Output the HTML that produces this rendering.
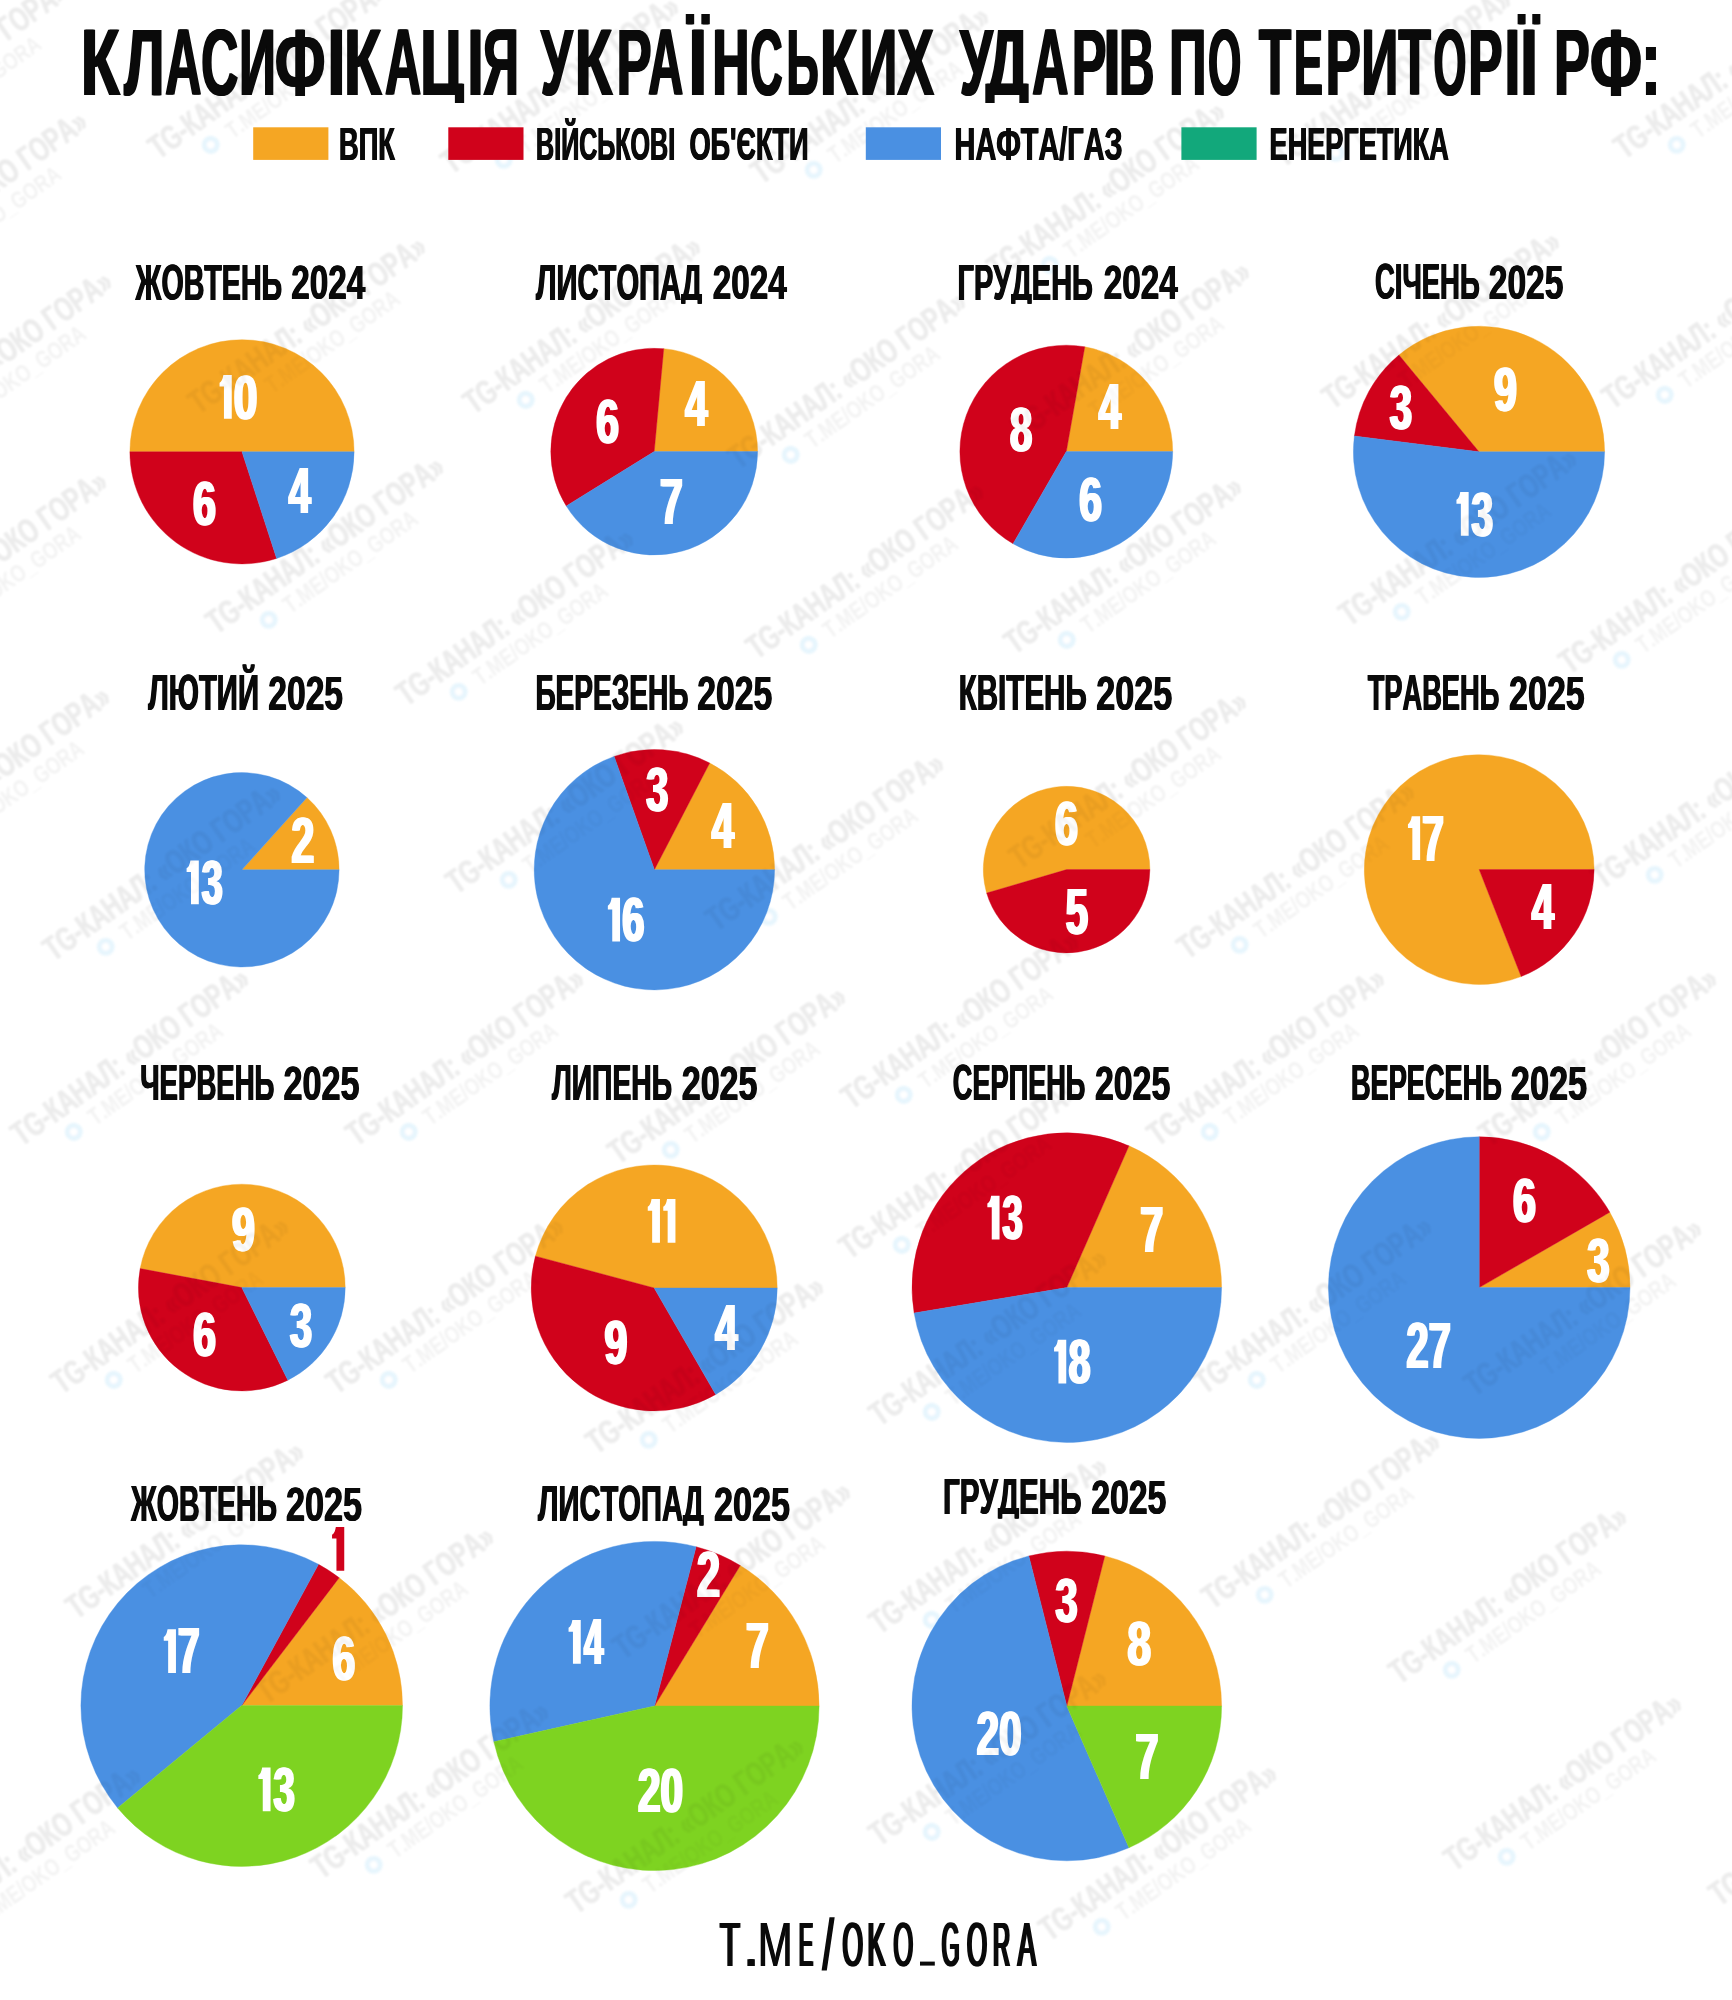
<!DOCTYPE html>
<html><head><meta charset="utf-8"><title>chart</title>
<style>
html,body{margin:0;padding:0;background:#fff;}
body{width:1732px;height:2000px;overflow:hidden;}
svg text{font-family:"Liberation Sans",sans-serif;font-size:100px;font-kerning:none;white-space:pre;}
</style></head><body>
<svg width="1732" height="2000" viewBox="0 0 1732 2000" style="display:block">
<rect width="1732" height="2000" fill="#fff"/>
<defs>
<g id="wa1"><use href="#w1" transform="translate(159 160) rotate(-35.3)"/><use href="#w1" transform="translate(452 175) rotate(-35.3)"/><use href="#w1" transform="translate(762 185) rotate(-35.3)"/><use href="#w1" transform="translate(1284 168) rotate(-35.3)"/><use href="#w1" transform="translate(1625 160) rotate(-35.3)"/><use href="#w1" transform="translate(998 280) rotate(-35.3)"/><use href="#w1" transform="translate(199 415) rotate(-35.3)"/><use href="#w1" transform="translate(474 415) rotate(-35.3)"/><use href="#w1" transform="translate(739 470) rotate(-35.3)"/><use href="#w1" transform="translate(1023 440) rotate(-35.3)"/><use href="#w1" transform="translate(1333 410) rotate(-35.3)"/><use href="#w1" transform="translate(1613 410) rotate(-35.3)"/><use href="#w1" transform="translate(217 635) rotate(-35.3)"/><use href="#w1" transform="translate(407 707) rotate(-35.3)"/><use href="#w1" transform="translate(757 660) rotate(-35.3)"/><use href="#w1" transform="translate(1015 655) rotate(-35.3)"/><use href="#w1" transform="translate(1350 627) rotate(-35.3)"/><use href="#w1" transform="translate(1570 675) rotate(-35.3)"/><use href="#w1" transform="translate(-140 290) rotate(-35.3)"/><use href="#w1" transform="translate(-115 450) rotate(-35.3)"/><use href="#w1" transform="translate(-120 650) rotate(-35.3)"/><use href="#w1" transform="translate(-160 160) rotate(-35.3)"/><use href="#w1" transform="translate(-117 865) rotate(-35.3)"/><use href="#w1" transform="translate(54 962) rotate(-35.3)"/><use href="#w1" transform="translate(457 895) rotate(-35.3)"/><use href="#w1" transform="translate(717 932) rotate(-35.3)"/><use href="#w1" transform="translate(1020 870) rotate(-35.3)"/><use href="#w1" transform="translate(1188 960) rotate(-35.3)"/><use href="#w1" transform="translate(1603 890) rotate(-35.3)"/><use href="#w1" transform="translate(22 1147) rotate(-35.3)"/><use href="#w1" transform="translate(357 1147) rotate(-35.3)"/><use href="#w1" transform="translate(619 1165) rotate(-35.3)"/><use href="#w1" transform="translate(852 1110) rotate(-35.3)"/><use href="#w1" transform="translate(1158 1147) rotate(-35.3)"/><use href="#w1" transform="translate(1490 1147) rotate(-35.3)"/><use href="#w1" transform="translate(850 1260) rotate(-35.3)"/><use href="#w1" transform="translate(62 1395) rotate(-35.3)"/><use href="#w1" transform="translate(337 1395) rotate(-35.3)"/><use href="#w1" transform="translate(597 1455) rotate(-35.3)"/><use href="#w1" transform="translate(880 1427) rotate(-35.3)"/><use href="#w1" transform="translate(1205 1395) rotate(-35.3)"/><use href="#w1" transform="translate(1475 1397) rotate(-35.3)"/><use href="#w1" transform="translate(77 1620) rotate(-35.3)"/><use href="#w1" transform="translate(267 1705) rotate(-35.3)"/><use href="#w1" transform="translate(624 1660) rotate(-35.3)"/><use href="#w1" transform="translate(880 1635) rotate(-35.3)"/><use href="#w1" transform="translate(1213 1610) rotate(-35.3)"/><use href="#w1" transform="translate(1400 1685) rotate(-35.3)"/><use href="#w1" transform="translate(322 1880) rotate(-35.3)"/><use href="#w1" transform="translate(577 1915) rotate(-35.3)"/><use href="#w1" transform="translate(-86 1944) rotate(-35.3)"/><use href="#w1" transform="translate(880 1847) rotate(-35.3)"/><use href="#w1" transform="translate(1050 1942) rotate(-35.3)"/><use href="#w1" transform="translate(1455 1872) rotate(-35.3)"/><use href="#w1" transform="translate(1720 1907) rotate(-35.3)"/></g><g id="wa2"><use href="#w2" transform="translate(159 160) rotate(-35.3)"/><use href="#w2" transform="translate(452 175) rotate(-35.3)"/><use href="#w2" transform="translate(762 185) rotate(-35.3)"/><use href="#w2" transform="translate(1284 168) rotate(-35.3)"/><use href="#w2" transform="translate(1625 160) rotate(-35.3)"/><use href="#w2" transform="translate(998 280) rotate(-35.3)"/><use href="#w2" transform="translate(199 415) rotate(-35.3)"/><use href="#w2" transform="translate(474 415) rotate(-35.3)"/><use href="#w2" transform="translate(739 470) rotate(-35.3)"/><use href="#w2" transform="translate(1023 440) rotate(-35.3)"/><use href="#w2" transform="translate(1333 410) rotate(-35.3)"/><use href="#w2" transform="translate(1613 410) rotate(-35.3)"/><use href="#w2" transform="translate(217 635) rotate(-35.3)"/><use href="#w2" transform="translate(407 707) rotate(-35.3)"/><use href="#w2" transform="translate(757 660) rotate(-35.3)"/><use href="#w2" transform="translate(1015 655) rotate(-35.3)"/><use href="#w2" transform="translate(1350 627) rotate(-35.3)"/><use href="#w2" transform="translate(1570 675) rotate(-35.3)"/><use href="#w2" transform="translate(-140 290) rotate(-35.3)"/><use href="#w2" transform="translate(-115 450) rotate(-35.3)"/><use href="#w2" transform="translate(-120 650) rotate(-35.3)"/><use href="#w2" transform="translate(-160 160) rotate(-35.3)"/><use href="#w2" transform="translate(-117 865) rotate(-35.3)"/><use href="#w2" transform="translate(54 962) rotate(-35.3)"/><use href="#w2" transform="translate(457 895) rotate(-35.3)"/><use href="#w2" transform="translate(717 932) rotate(-35.3)"/><use href="#w2" transform="translate(1020 870) rotate(-35.3)"/><use href="#w2" transform="translate(1188 960) rotate(-35.3)"/><use href="#w2" transform="translate(1603 890) rotate(-35.3)"/><use href="#w2" transform="translate(22 1147) rotate(-35.3)"/><use href="#w2" transform="translate(357 1147) rotate(-35.3)"/><use href="#w2" transform="translate(619 1165) rotate(-35.3)"/><use href="#w2" transform="translate(852 1110) rotate(-35.3)"/><use href="#w2" transform="translate(1158 1147) rotate(-35.3)"/><use href="#w2" transform="translate(1490 1147) rotate(-35.3)"/><use href="#w2" transform="translate(850 1260) rotate(-35.3)"/><use href="#w2" transform="translate(62 1395) rotate(-35.3)"/><use href="#w2" transform="translate(337 1395) rotate(-35.3)"/><use href="#w2" transform="translate(597 1455) rotate(-35.3)"/><use href="#w2" transform="translate(880 1427) rotate(-35.3)"/><use href="#w2" transform="translate(1205 1395) rotate(-35.3)"/><use href="#w2" transform="translate(1475 1397) rotate(-35.3)"/><use href="#w2" transform="translate(77 1620) rotate(-35.3)"/><use href="#w2" transform="translate(267 1705) rotate(-35.3)"/><use href="#w2" transform="translate(624 1660) rotate(-35.3)"/><use href="#w2" transform="translate(880 1635) rotate(-35.3)"/><use href="#w2" transform="translate(1213 1610) rotate(-35.3)"/><use href="#w2" transform="translate(1400 1685) rotate(-35.3)"/><use href="#w2" transform="translate(322 1880) rotate(-35.3)"/><use href="#w2" transform="translate(577 1915) rotate(-35.3)"/><use href="#w2" transform="translate(-86 1944) rotate(-35.3)"/><use href="#w2" transform="translate(880 1847) rotate(-35.3)"/><use href="#w2" transform="translate(1050 1942) rotate(-35.3)"/><use href="#w2" transform="translate(1455 1872) rotate(-35.3)"/><use href="#w2" transform="translate(1720 1907) rotate(-35.3)"/></g><g id="wa3"><use href="#w3" transform="translate(159 160) rotate(-35.3)"/><use href="#w3" transform="translate(452 175) rotate(-35.3)"/><use href="#w3" transform="translate(762 185) rotate(-35.3)"/><use href="#w3" transform="translate(1284 168) rotate(-35.3)"/><use href="#w3" transform="translate(1625 160) rotate(-35.3)"/><use href="#w3" transform="translate(998 280) rotate(-35.3)"/><use href="#w3" transform="translate(199 415) rotate(-35.3)"/><use href="#w3" transform="translate(474 415) rotate(-35.3)"/><use href="#w3" transform="translate(739 470) rotate(-35.3)"/><use href="#w3" transform="translate(1023 440) rotate(-35.3)"/><use href="#w3" transform="translate(1333 410) rotate(-35.3)"/><use href="#w3" transform="translate(1613 410) rotate(-35.3)"/><use href="#w3" transform="translate(217 635) rotate(-35.3)"/><use href="#w3" transform="translate(407 707) rotate(-35.3)"/><use href="#w3" transform="translate(757 660) rotate(-35.3)"/><use href="#w3" transform="translate(1015 655) rotate(-35.3)"/><use href="#w3" transform="translate(1350 627) rotate(-35.3)"/><use href="#w3" transform="translate(1570 675) rotate(-35.3)"/><use href="#w3" transform="translate(-140 290) rotate(-35.3)"/><use href="#w3" transform="translate(-115 450) rotate(-35.3)"/><use href="#w3" transform="translate(-120 650) rotate(-35.3)"/><use href="#w3" transform="translate(-160 160) rotate(-35.3)"/><use href="#w3" transform="translate(-117 865) rotate(-35.3)"/><use href="#w3" transform="translate(54 962) rotate(-35.3)"/><use href="#w3" transform="translate(457 895) rotate(-35.3)"/><use href="#w3" transform="translate(717 932) rotate(-35.3)"/><use href="#w3" transform="translate(1020 870) rotate(-35.3)"/><use href="#w3" transform="translate(1188 960) rotate(-35.3)"/><use href="#w3" transform="translate(1603 890) rotate(-35.3)"/><use href="#w3" transform="translate(22 1147) rotate(-35.3)"/><use href="#w3" transform="translate(357 1147) rotate(-35.3)"/><use href="#w3" transform="translate(619 1165) rotate(-35.3)"/><use href="#w3" transform="translate(852 1110) rotate(-35.3)"/><use href="#w3" transform="translate(1158 1147) rotate(-35.3)"/><use href="#w3" transform="translate(1490 1147) rotate(-35.3)"/><use href="#w3" transform="translate(850 1260) rotate(-35.3)"/><use href="#w3" transform="translate(62 1395) rotate(-35.3)"/><use href="#w3" transform="translate(337 1395) rotate(-35.3)"/><use href="#w3" transform="translate(597 1455) rotate(-35.3)"/><use href="#w3" transform="translate(880 1427) rotate(-35.3)"/><use href="#w3" transform="translate(1205 1395) rotate(-35.3)"/><use href="#w3" transform="translate(1475 1397) rotate(-35.3)"/><use href="#w3" transform="translate(77 1620) rotate(-35.3)"/><use href="#w3" transform="translate(267 1705) rotate(-35.3)"/><use href="#w3" transform="translate(624 1660) rotate(-35.3)"/><use href="#w3" transform="translate(880 1635) rotate(-35.3)"/><use href="#w3" transform="translate(1213 1610) rotate(-35.3)"/><use href="#w3" transform="translate(1400 1685) rotate(-35.3)"/><use href="#w3" transform="translate(322 1880) rotate(-35.3)"/><use href="#w3" transform="translate(577 1915) rotate(-35.3)"/><use href="#w3" transform="translate(-86 1944) rotate(-35.3)"/><use href="#w3" transform="translate(880 1847) rotate(-35.3)"/><use href="#w3" transform="translate(1050 1942) rotate(-35.3)"/><use href="#w3" transform="translate(1455 1872) rotate(-35.3)"/><use href="#w3" transform="translate(1720 1907) rotate(-35.3)"/></g>
<g id="w1">
<text transform="matrix(0.2333 0 0 0.3416 -0.76 0)" font-weight="bold">TG-КАНАЛ: «ОКО ГОРА»</text>
<text transform="matrix(0.2333 0 0 0.3416 0.24 0)" font-weight="bold">TG-КАНАЛ: «ОКО ГОРА»</text>
</g>
<g id="w2">
<text transform="matrix(0.1867 0 0 0.2326 71.79 25.7)" font-weight="bold">T.ME/OKO_GORA</text>
</g>
<g id="w3"><circle cx="51.0" cy="17.5" r="9" fill="#2AABEE"/><circle cx="51.0" cy="17.5" r="3.4" fill="#fff"/></g>
<filter id="wb" x="-2%" y="-2%" width="104%" height="104%"><feGaussianBlur stdDeviation="0.85"/></filter>
</defs>
<g opacity="0.078" fill="#000" filter="url(#wb)"><use href="#wa1"/></g>
<g opacity="0.052" fill="#000" filter="url(#wb)"><use href="#wa2"/></g>
<g opacity="0.11" filter="url(#wb)"><use href="#wa3"/></g>
<rect x="253.2" y="127.3" width="75.2" height="32.6" fill="#F5A623"/>
<rect x="448.3" y="127.3" width="75.2" height="32.6" fill="#D0021B"/>
<rect x="865.8" y="127.3" width="75.2" height="32.6" fill="#4A90E2"/>
<rect x="1181.4" y="127.3" width="75.2" height="32.6" fill="#12A87B"/>
<path d="M242.00 451.80L354.10 451.80A112.10 112.10 0 0 0 129.90 451.80Z" fill="#F5A623" stroke="#F5A623" stroke-width="0.4" stroke-linejoin="round"/>
<path d="M242.00 451.80L129.90 451.80A112.10 112.10 0 0 0 276.64 558.41Z" fill="#D0021B" stroke="#D0021B" stroke-width="0.4" stroke-linejoin="round"/>
<path d="M242.00 451.80L276.64 558.41A112.10 112.10 0 0 0 354.10 451.80Z" fill="#4A90E2" stroke="#4A90E2" stroke-width="0.4" stroke-linejoin="round"/>
<path d="M654.20 451.60L757.60 451.60A103.40 103.40 0 0 0 663.74 348.64Z" fill="#F5A623" stroke="#F5A623" stroke-width="0.4" stroke-linejoin="round"/>
<path d="M654.20 451.60L663.74 348.64A103.40 103.40 0 0 0 566.29 506.03Z" fill="#D0021B" stroke="#D0021B" stroke-width="0.4" stroke-linejoin="round"/>
<path d="M654.20 451.60L566.29 506.03A103.40 103.40 0 0 0 757.60 451.60Z" fill="#4A90E2" stroke="#4A90E2" stroke-width="0.4" stroke-linejoin="round"/>
<path d="M1066.30 451.60L1172.70 451.60A106.40 106.40 0 0 0 1084.78 346.82Z" fill="#F5A623" stroke="#F5A623" stroke-width="0.4" stroke-linejoin="round"/>
<path d="M1066.30 451.60L1084.78 346.82A106.40 106.40 0 0 0 1013.10 543.75Z" fill="#D0021B" stroke="#D0021B" stroke-width="0.4" stroke-linejoin="round"/>
<path d="M1066.30 451.60L1013.10 543.75A106.40 106.40 0 0 0 1172.70 451.60Z" fill="#4A90E2" stroke="#4A90E2" stroke-width="0.4" stroke-linejoin="round"/>
<path d="M1479.00 451.80L1604.60 451.80A125.60 125.60 0 0 0 1398.94 355.02Z" fill="#F5A623" stroke="#F5A623" stroke-width="0.4" stroke-linejoin="round"/>
<path d="M1479.00 451.80L1398.94 355.02A125.60 125.60 0 0 0 1354.39 436.06Z" fill="#D0021B" stroke="#D0021B" stroke-width="0.4" stroke-linejoin="round"/>
<path d="M1479.00 451.80L1354.39 436.06A125.60 125.60 0 1 0 1604.60 451.80Z" fill="#4A90E2" stroke="#4A90E2" stroke-width="0.4" stroke-linejoin="round"/>
<path d="M241.90 869.80L339.10 869.80A97.20 97.20 0 0 0 306.94 797.57Z" fill="#F5A623" stroke="#F5A623" stroke-width="0.4" stroke-linejoin="round"/>
<path d="M241.90 869.80L306.94 797.57A97.20 97.20 0 1 0 339.10 869.80Z" fill="#4A90E2" stroke="#4A90E2" stroke-width="0.4" stroke-linejoin="round"/>
<path d="M654.40 869.70L774.60 869.70A120.20 120.20 0 0 0 709.70 762.98Z" fill="#F5A623" stroke="#F5A623" stroke-width="0.4" stroke-linejoin="round"/>
<path d="M654.40 869.70L709.70 762.98A120.20 120.20 0 0 0 614.15 756.44Z" fill="#D0021B" stroke="#D0021B" stroke-width="0.4" stroke-linejoin="round"/>
<path d="M654.40 869.70L614.15 756.44A120.20 120.20 0 1 0 774.60 869.70Z" fill="#4A90E2" stroke="#4A90E2" stroke-width="0.4" stroke-linejoin="round"/>
<path d="M1066.60 869.60L1149.90 869.60A83.30 83.30 0 1 0 986.67 893.07Z" fill="#F5A623" stroke="#F5A623" stroke-width="0.4" stroke-linejoin="round"/>
<path d="M1066.60 869.60L986.67 893.07A83.30 83.30 0 0 0 1149.90 869.60Z" fill="#D0021B" stroke="#D0021B" stroke-width="0.4" stroke-linejoin="round"/>
<path d="M1479.20 869.60L1594.10 869.60A114.90 114.90 0 1 0 1521.18 976.56Z" fill="#F5A623" stroke="#F5A623" stroke-width="0.4" stroke-linejoin="round"/>
<path d="M1479.20 869.60L1521.18 976.56A114.90 114.90 0 0 0 1594.10 869.60Z" fill="#D0021B" stroke="#D0021B" stroke-width="0.4" stroke-linejoin="round"/>
<path d="M241.80 1287.60L345.20 1287.60A103.40 103.40 0 0 0 140.16 1268.60Z" fill="#F5A623" stroke="#F5A623" stroke-width="0.4" stroke-linejoin="round"/>
<path d="M241.80 1287.60L140.16 1268.60A103.40 103.40 0 0 0 287.89 1380.16Z" fill="#D0021B" stroke="#D0021B" stroke-width="0.4" stroke-linejoin="round"/>
<path d="M241.80 1287.60L287.89 1380.16A103.40 103.40 0 0 0 345.20 1287.60Z" fill="#4A90E2" stroke="#4A90E2" stroke-width="0.4" stroke-linejoin="round"/>
<path d="M654.20 1288.00L777.20 1288.00A123.00 123.00 0 0 0 535.39 1256.17Z" fill="#F5A623" stroke="#F5A623" stroke-width="0.4" stroke-linejoin="round"/>
<path d="M654.20 1288.00L535.39 1256.17A123.00 123.00 0 0 0 715.70 1394.52Z" fill="#D0021B" stroke="#D0021B" stroke-width="0.4" stroke-linejoin="round"/>
<path d="M654.20 1288.00L715.70 1394.52A123.00 123.00 0 0 0 777.20 1288.00Z" fill="#4A90E2" stroke="#4A90E2" stroke-width="0.4" stroke-linejoin="round"/>
<path d="M1066.80 1287.60L1221.60 1287.60A154.80 154.80 0 0 0 1128.98 1145.84Z" fill="#F5A623" stroke="#F5A623" stroke-width="0.4" stroke-linejoin="round"/>
<path d="M1066.80 1287.60L1128.98 1145.84A154.80 154.80 0 0 0 914.11 1313.08Z" fill="#D0021B" stroke="#D0021B" stroke-width="0.4" stroke-linejoin="round"/>
<path d="M1066.80 1287.60L914.11 1313.08A154.80 154.80 0 0 0 1221.60 1287.60Z" fill="#4A90E2" stroke="#4A90E2" stroke-width="0.4" stroke-linejoin="round"/>
<path d="M1479.20 1287.60L1630.00 1287.60A150.80 150.80 0 0 0 1609.80 1212.20Z" fill="#F5A623" stroke="#F5A623" stroke-width="0.4" stroke-linejoin="round"/>
<path d="M1479.20 1287.60L1609.80 1212.20A150.80 150.80 0 0 0 1479.20 1136.80Z" fill="#D0021B" stroke="#D0021B" stroke-width="0.4" stroke-linejoin="round"/>
<path d="M1479.20 1287.60L1479.20 1136.80A150.80 150.80 0 1 0 1630.00 1287.60Z" fill="#4A90E2" stroke="#4A90E2" stroke-width="0.4" stroke-linejoin="round"/>
<path d="M241.70 1705.60L402.50 1705.60A160.80 160.80 0 0 0 339.18 1577.72Z" fill="#F5A623" stroke="#F5A623" stroke-width="0.4" stroke-linejoin="round"/>
<path d="M241.70 1705.60L339.18 1577.72A160.80 160.80 0 0 0 318.52 1564.34Z" fill="#D0021B" stroke="#D0021B" stroke-width="0.4" stroke-linejoin="round"/>
<path d="M241.70 1705.60L318.52 1564.34A160.80 160.80 0 0 0 117.64 1807.91Z" fill="#4A90E2" stroke="#4A90E2" stroke-width="0.4" stroke-linejoin="round"/>
<path d="M241.70 1705.60L117.64 1807.91A160.80 160.80 0 0 0 402.50 1705.60Z" fill="#7ED321" stroke="#7ED321" stroke-width="0.4" stroke-linejoin="round"/>
<path d="M654.50 1706.00L819.10 1706.00A164.60 164.60 0 0 0 740.25 1565.50Z" fill="#F5A623" stroke="#F5A623" stroke-width="0.4" stroke-linejoin="round"/>
<path d="M654.50 1706.00L740.25 1565.50A164.60 164.60 0 0 0 696.13 1546.75Z" fill="#D0021B" stroke="#D0021B" stroke-width="0.4" stroke-linejoin="round"/>
<path d="M654.50 1706.00L696.13 1546.75A164.60 164.60 0 0 0 493.84 1741.79Z" fill="#4A90E2" stroke="#4A90E2" stroke-width="0.4" stroke-linejoin="round"/>
<path d="M654.50 1706.00L493.84 1741.79A164.60 164.60 0 0 0 819.10 1706.00Z" fill="#7ED321" stroke="#7ED321" stroke-width="0.4" stroke-linejoin="round"/>
<path d="M1066.80 1706.00L1221.60 1706.00A154.80 154.80 0 0 0 1104.80 1555.94Z" fill="#F5A623" stroke="#F5A623" stroke-width="0.4" stroke-linejoin="round"/>
<path d="M1066.80 1706.00L1104.80 1555.94A154.80 154.80 0 0 0 1028.80 1555.94Z" fill="#D0021B" stroke="#D0021B" stroke-width="0.4" stroke-linejoin="round"/>
<path d="M1066.80 1706.00L1028.80 1555.94A154.80 154.80 0 1 0 1128.98 1847.76Z" fill="#4A90E2" stroke="#4A90E2" stroke-width="0.4" stroke-linejoin="round"/>
<path d="M1066.80 1706.00L1128.98 1847.76A154.80 154.80 0 0 0 1221.60 1706.00Z" fill="#7ED321" stroke="#7ED321" stroke-width="0.4" stroke-linejoin="round"/>
<clipPath id="ct"><rect x="0" y="0" width="1732" height="103"/></clipPath>
<clipPath id="cm0"><rect x="0" y="239.1" width="1732" height="64.3"/></clipPath>
<clipPath id="cm1"><rect x="0" y="239.5" width="1732" height="64.3"/></clipPath>
<clipPath id="cm2"><rect x="0" y="650.4" width="1732" height="64.3"/></clipPath>
<clipPath id="cm3"><rect x="0" y="1040.1" width="1732" height="64.3"/></clipPath>
<clipPath id="cm4"><rect x="0" y="1454.2" width="1732" height="64.3"/></clipPath>
<clipPath id="cm5"><rect x="0" y="1461.2" width="1732" height="64.3"/></clipPath>
<g clip-path="url(#ct)"><text transform="matrix(0.6441 0 0 0.9535 79.79 94.60)" font-weight="bold" fill="#0a0a0a">К</text></g>
<g clip-path="url(#ct)"><text transform="matrix(0.6441 0 0 0.9535 80.69 94.60)" font-weight="bold" fill="#0a0a0a">К</text></g>
<g clip-path="url(#ct)"><text transform="matrix(0.6441 0 0 0.9535 81.59 94.60)" font-weight="bold" fill="#0a0a0a">К</text></g>
<g clip-path="url(#ct)"><text transform="matrix(0.5754 0 0 0.9535 123.28 94.60)" font-weight="bold" fill="#0a0a0a">Л</text></g>
<g clip-path="url(#ct)"><text transform="matrix(0.5754 0 0 0.9535 124.18 94.60)" font-weight="bold" fill="#0a0a0a">Л</text></g>
<g clip-path="url(#ct)"><text transform="matrix(0.5754 0 0 0.9535 125.08 94.60)" font-weight="bold" fill="#0a0a0a">Л</text></g>
<g clip-path="url(#ct)"><text transform="matrix(0.5038 0 0 0.9535 164.15 94.60)" font-weight="bold" fill="#0a0a0a">А</text></g>
<g clip-path="url(#ct)"><text transform="matrix(0.5038 0 0 0.9535 165.05 94.60)" font-weight="bold" fill="#0a0a0a">А</text></g>
<g clip-path="url(#ct)"><text transform="matrix(0.5038 0 0 0.9535 165.95 94.60)" font-weight="bold" fill="#0a0a0a">А</text></g>
<g clip-path="url(#ct)"><text transform="matrix(0.5154 0 0 0.9535 200.19 94.60)" font-weight="bold" fill="#0a0a0a">С</text></g>
<g clip-path="url(#ct)"><text transform="matrix(0.5154 0 0 0.9535 201.09 94.60)" font-weight="bold" fill="#0a0a0a">С</text></g>
<g clip-path="url(#ct)"><text transform="matrix(0.5154 0 0 0.9535 201.99 94.60)" font-weight="bold" fill="#0a0a0a">С</text></g>
<g clip-path="url(#ct)"><text transform="matrix(0.5107 0 0 0.9535 238.31 94.60)" font-weight="bold" fill="#0a0a0a">И</text></g>
<g clip-path="url(#ct)"><text transform="matrix(0.5107 0 0 0.9535 239.21 94.60)" font-weight="bold" fill="#0a0a0a">И</text></g>
<g clip-path="url(#ct)"><text transform="matrix(0.5107 0 0 0.9535 240.11 94.60)" font-weight="bold" fill="#0a0a0a">И</text></g>
<g clip-path="url(#ct)"><text transform="matrix(0.5917 0 0 0.9535 273.95 94.60)" font-weight="bold" fill="#0a0a0a">Ф</text></g>
<g clip-path="url(#ct)"><text transform="matrix(0.5917 0 0 0.9535 274.85 94.60)" font-weight="bold" fill="#0a0a0a">Ф</text></g>
<g clip-path="url(#ct)"><text transform="matrix(0.5917 0 0 0.9535 275.75 94.60)" font-weight="bold" fill="#0a0a0a">Ф</text></g>
<g clip-path="url(#ct)"><text transform="matrix(0.6665 0 0 0.9535 326.14 94.60)" font-weight="bold" fill="#0a0a0a">І</text></g>
<g clip-path="url(#ct)"><text transform="matrix(0.6665 0 0 0.9535 327.04 94.60)" font-weight="bold" fill="#0a0a0a">І</text></g>
<g clip-path="url(#ct)"><text transform="matrix(0.6665 0 0 0.9535 327.94 94.60)" font-weight="bold" fill="#0a0a0a">І</text></g>
<g clip-path="url(#ct)"><text transform="matrix(0.6203 0 0 0.9535 342.95 94.60)" font-weight="bold" fill="#0a0a0a">К</text></g>
<g clip-path="url(#ct)"><text transform="matrix(0.6203 0 0 0.9535 343.85 94.60)" font-weight="bold" fill="#0a0a0a">К</text></g>
<g clip-path="url(#ct)"><text transform="matrix(0.6203 0 0 0.9535 344.75 94.60)" font-weight="bold" fill="#0a0a0a">К</text></g>
<g clip-path="url(#ct)"><text transform="matrix(0.5038 0 0 0.9535 383.95 94.60)" font-weight="bold" fill="#0a0a0a">А</text></g>
<g clip-path="url(#ct)"><text transform="matrix(0.5038 0 0 0.9535 384.85 94.60)" font-weight="bold" fill="#0a0a0a">А</text></g>
<g clip-path="url(#ct)"><text transform="matrix(0.5038 0 0 0.9535 385.75 94.60)" font-weight="bold" fill="#0a0a0a">А</text></g>
<g clip-path="url(#ct)"><text transform="matrix(0.5928 0 0 0.9535 419.33 94.60)" font-weight="bold" fill="#0a0a0a">Ц</text></g>
<g clip-path="url(#ct)"><text transform="matrix(0.5928 0 0 0.9535 420.23 94.60)" font-weight="bold" fill="#0a0a0a">Ц</text></g>
<g clip-path="url(#ct)"><text transform="matrix(0.5928 0 0 0.9535 421.13 94.60)" font-weight="bold" fill="#0a0a0a">Ц</text></g>
<g clip-path="url(#ct)"><text transform="matrix(0.5832 0 0 0.9535 466.40 94.60)" font-weight="bold" fill="#0a0a0a">І</text></g>
<g clip-path="url(#ct)"><text transform="matrix(0.5832 0 0 0.9535 467.30 94.60)" font-weight="bold" fill="#0a0a0a">І</text></g>
<g clip-path="url(#ct)"><text transform="matrix(0.5832 0 0 0.9535 468.20 94.60)" font-weight="bold" fill="#0a0a0a">І</text></g>
<g clip-path="url(#ct)"><text transform="matrix(0.4962 0 0 0.9535 482.15 94.60)" font-weight="bold" fill="#0a0a0a">Я</text></g>
<g clip-path="url(#ct)"><text transform="matrix(0.4962 0 0 0.9535 483.05 94.60)" font-weight="bold" fill="#0a0a0a">Я</text></g>
<g clip-path="url(#ct)"><text transform="matrix(0.4962 0 0 0.9535 483.95 94.60)" font-weight="bold" fill="#0a0a0a">Я</text></g>
<g clip-path="url(#ct)"><text transform="matrix(0.5152 0 0 0.9535 539.67 94.60)" font-weight="bold" fill="#0a0a0a">У</text></g>
<g clip-path="url(#ct)"><text transform="matrix(0.5152 0 0 0.9535 540.57 94.60)" font-weight="bold" fill="#0a0a0a">У</text></g>
<g clip-path="url(#ct)"><text transform="matrix(0.5152 0 0 0.9535 541.47 94.60)" font-weight="bold" fill="#0a0a0a">У</text></g>
<g clip-path="url(#ct)"><text transform="matrix(0.6203 0 0 0.9535 573.65 94.60)" font-weight="bold" fill="#0a0a0a">К</text></g>
<g clip-path="url(#ct)"><text transform="matrix(0.6203 0 0 0.9535 574.55 94.60)" font-weight="bold" fill="#0a0a0a">К</text></g>
<g clip-path="url(#ct)"><text transform="matrix(0.6203 0 0 0.9535 575.45 94.60)" font-weight="bold" fill="#0a0a0a">К</text></g>
<g clip-path="url(#ct)"><text transform="matrix(0.5248 0 0 0.9535 615.69 94.60)" font-weight="bold" fill="#0a0a0a">Р</text></g>
<g clip-path="url(#ct)"><text transform="matrix(0.5248 0 0 0.9535 616.59 94.60)" font-weight="bold" fill="#0a0a0a">Р</text></g>
<g clip-path="url(#ct)"><text transform="matrix(0.5248 0 0 0.9535 617.49 94.60)" font-weight="bold" fill="#0a0a0a">Р</text></g>
<g clip-path="url(#ct)"><text transform="matrix(0.4874 0 0 0.9535 647.29 94.60)" font-weight="bold" fill="#0a0a0a">А</text></g>
<g clip-path="url(#ct)"><text transform="matrix(0.4874 0 0 0.9535 648.19 94.60)" font-weight="bold" fill="#0a0a0a">А</text></g>
<g clip-path="url(#ct)"><text transform="matrix(0.4874 0 0 0.9535 649.09 94.60)" font-weight="bold" fill="#0a0a0a">А</text></g>
<g clip-path="url(#ct)"><text transform="matrix(0.7015 0 0 0.9535 687.27 94.60)" font-weight="bold" fill="#0a0a0a">Ї</text></g>
<g clip-path="url(#ct)"><text transform="matrix(0.7015 0 0 0.9535 688.17 94.60)" font-weight="bold" fill="#0a0a0a">Ї</text></g>
<g clip-path="url(#ct)"><text transform="matrix(0.7015 0 0 0.9535 689.07 94.60)" font-weight="bold" fill="#0a0a0a">Ї</text></g>
<g clip-path="url(#ct)"><text transform="matrix(0.5103 0 0 0.9535 711.59 94.60)" font-weight="bold" fill="#0a0a0a">Н</text></g>
<g clip-path="url(#ct)"><text transform="matrix(0.5103 0 0 0.9535 712.49 94.60)" font-weight="bold" fill="#0a0a0a">Н</text></g>
<g clip-path="url(#ct)"><text transform="matrix(0.5103 0 0 0.9535 713.39 94.60)" font-weight="bold" fill="#0a0a0a">Н</text></g>
<g clip-path="url(#ct)"><text transform="matrix(0.4466 0 0 0.9535 749.47 94.60)" font-weight="bold" fill="#0a0a0a">С</text></g>
<g clip-path="url(#ct)"><text transform="matrix(0.4466 0 0 0.9535 750.37 94.60)" font-weight="bold" fill="#0a0a0a">С</text></g>
<g clip-path="url(#ct)"><text transform="matrix(0.4466 0 0 0.9535 751.27 94.60)" font-weight="bold" fill="#0a0a0a">С</text></g>
<g clip-path="url(#ct)"><text transform="matrix(0.4447 0 0 0.9535 785.73 94.60)" font-weight="bold" fill="#0a0a0a">Ь</text></g>
<g clip-path="url(#ct)"><text transform="matrix(0.4447 0 0 0.9535 786.63 94.60)" font-weight="bold" fill="#0a0a0a">Ь</text></g>
<g clip-path="url(#ct)"><text transform="matrix(0.4447 0 0 0.9535 787.53 94.60)" font-weight="bold" fill="#0a0a0a">Ь</text></g>
<g clip-path="url(#ct)"><text transform="matrix(0.6203 0 0 0.9535 818.85 94.60)" font-weight="bold" fill="#0a0a0a">К</text></g>
<g clip-path="url(#ct)"><text transform="matrix(0.6203 0 0 0.9535 819.75 94.60)" font-weight="bold" fill="#0a0a0a">К</text></g>
<g clip-path="url(#ct)"><text transform="matrix(0.6203 0 0 0.9535 820.65 94.60)" font-weight="bold" fill="#0a0a0a">К</text></g>
<g clip-path="url(#ct)"><text transform="matrix(0.5193 0 0 0.9535 858.95 94.60)" font-weight="bold" fill="#0a0a0a">И</text></g>
<g clip-path="url(#ct)"><text transform="matrix(0.5193 0 0 0.9535 859.85 94.60)" font-weight="bold" fill="#0a0a0a">И</text></g>
<g clip-path="url(#ct)"><text transform="matrix(0.5193 0 0 0.9535 860.75 94.60)" font-weight="bold" fill="#0a0a0a">И</text></g>
<g clip-path="url(#ct)"><text transform="matrix(0.5559 0 0 0.9535 896.21 94.60)" font-weight="bold" fill="#0a0a0a">Х</text></g>
<g clip-path="url(#ct)"><text transform="matrix(0.5559 0 0 0.9535 897.11 94.60)" font-weight="bold" fill="#0a0a0a">Х</text></g>
<g clip-path="url(#ct)"><text transform="matrix(0.5559 0 0 0.9535 898.01 94.60)" font-weight="bold" fill="#0a0a0a">Х</text></g>
<g clip-path="url(#ct)"><text transform="matrix(0.5342 0 0 0.9535 958.77 94.60)" font-weight="bold" fill="#0a0a0a">У</text></g>
<g clip-path="url(#ct)"><text transform="matrix(0.5342 0 0 0.9535 959.67 94.60)" font-weight="bold" fill="#0a0a0a">У</text></g>
<g clip-path="url(#ct)"><text transform="matrix(0.5342 0 0 0.9535 960.57 94.60)" font-weight="bold" fill="#0a0a0a">У</text></g>
<g clip-path="url(#ct)"><text transform="matrix(0.6039 0 0 0.9535 984.87 94.60)" font-weight="bold" fill="#0a0a0a">Д</text></g>
<g clip-path="url(#ct)"><text transform="matrix(0.6039 0 0 0.9535 985.77 94.60)" font-weight="bold" fill="#0a0a0a">Д</text></g>
<g clip-path="url(#ct)"><text transform="matrix(0.6039 0 0 0.9535 986.67 94.60)" font-weight="bold" fill="#0a0a0a">Д</text></g>
<g clip-path="url(#ct)"><text transform="matrix(0.5038 0 0 0.9535 1031.15 94.60)" font-weight="bold" fill="#0a0a0a">А</text></g>
<g clip-path="url(#ct)"><text transform="matrix(0.5038 0 0 0.9535 1032.05 94.60)" font-weight="bold" fill="#0a0a0a">А</text></g>
<g clip-path="url(#ct)"><text transform="matrix(0.5038 0 0 0.9535 1032.95 94.60)" font-weight="bold" fill="#0a0a0a">А</text></g>
<g clip-path="url(#ct)"><text transform="matrix(0.5177 0 0 0.9535 1070.94 94.60)" font-weight="bold" fill="#0a0a0a">Р</text></g>
<g clip-path="url(#ct)"><text transform="matrix(0.5177 0 0 0.9535 1071.84 94.60)" font-weight="bold" fill="#0a0a0a">Р</text></g>
<g clip-path="url(#ct)"><text transform="matrix(0.5177 0 0 0.9535 1072.74 94.60)" font-weight="bold" fill="#0a0a0a">Р</text></g>
<g clip-path="url(#ct)"><text transform="matrix(0.6387 0 0 0.9535 1102.23 94.60)" font-weight="bold" fill="#0a0a0a">І</text></g>
<g clip-path="url(#ct)"><text transform="matrix(0.6387 0 0 0.9535 1103.13 94.60)" font-weight="bold" fill="#0a0a0a">І</text></g>
<g clip-path="url(#ct)"><text transform="matrix(0.6387 0 0 0.9535 1104.03 94.60)" font-weight="bold" fill="#0a0a0a">І</text></g>
<g clip-path="url(#ct)"><text transform="matrix(0.4886 0 0 0.9535 1118.13 94.60)" font-weight="bold" fill="#0a0a0a">В</text></g>
<g clip-path="url(#ct)"><text transform="matrix(0.4886 0 0 0.9535 1119.03 94.60)" font-weight="bold" fill="#0a0a0a">В</text></g>
<g clip-path="url(#ct)"><text transform="matrix(0.4886 0 0 0.9535 1119.93 94.60)" font-weight="bold" fill="#0a0a0a">В</text></g>
<g clip-path="url(#ct)"><text transform="matrix(0.5197 0 0 0.9535 1168.22 94.60)" font-weight="bold" fill="#0a0a0a">П</text></g>
<g clip-path="url(#ct)"><text transform="matrix(0.5197 0 0 0.9535 1169.12 94.60)" font-weight="bold" fill="#0a0a0a">П</text></g>
<g clip-path="url(#ct)"><text transform="matrix(0.5197 0 0 0.9535 1170.02 94.60)" font-weight="bold" fill="#0a0a0a">П</text></g>
<g clip-path="url(#ct)"><text transform="matrix(0.4246 0 0 0.9535 1207.26 94.60)" font-weight="bold" fill="#0a0a0a">О</text></g>
<g clip-path="url(#ct)"><text transform="matrix(0.4246 0 0 0.9535 1208.16 94.60)" font-weight="bold" fill="#0a0a0a">О</text></g>
<g clip-path="url(#ct)"><text transform="matrix(0.4246 0 0 0.9535 1209.06 94.60)" font-weight="bold" fill="#0a0a0a">О</text></g>
<g clip-path="url(#ct)"><text transform="matrix(0.5298 0 0 0.9535 1258.00 94.60)" font-weight="bold" fill="#0a0a0a">Т</text></g>
<g clip-path="url(#ct)"><text transform="matrix(0.5298 0 0 0.9535 1258.90 94.60)" font-weight="bold" fill="#0a0a0a">Т</text></g>
<g clip-path="url(#ct)"><text transform="matrix(0.5298 0 0 0.9535 1259.80 94.60)" font-weight="bold" fill="#0a0a0a">Т</text></g>
<g clip-path="url(#ct)"><text transform="matrix(0.4296 0 0 0.9535 1293.13 94.60)" font-weight="bold" fill="#0a0a0a">Е</text></g>
<g clip-path="url(#ct)"><text transform="matrix(0.4296 0 0 0.9535 1294.03 94.60)" font-weight="bold" fill="#0a0a0a">Е</text></g>
<g clip-path="url(#ct)"><text transform="matrix(0.4296 0 0 0.9535 1294.93 94.60)" font-weight="bold" fill="#0a0a0a">Е</text></g>
<g clip-path="url(#ct)"><text transform="matrix(0.5283 0 0 0.9535 1324.77 94.60)" font-weight="bold" fill="#0a0a0a">Р</text></g>
<g clip-path="url(#ct)"><text transform="matrix(0.5283 0 0 0.9535 1325.67 94.60)" font-weight="bold" fill="#0a0a0a">Р</text></g>
<g clip-path="url(#ct)"><text transform="matrix(0.5283 0 0 0.9535 1326.57 94.60)" font-weight="bold" fill="#0a0a0a">Р</text></g>
<g clip-path="url(#ct)"><text transform="matrix(0.5124 0 0 0.9535 1360.40 94.60)" font-weight="bold" fill="#0a0a0a">И</text></g>
<g clip-path="url(#ct)"><text transform="matrix(0.5124 0 0 0.9535 1361.30 94.60)" font-weight="bold" fill="#0a0a0a">И</text></g>
<g clip-path="url(#ct)"><text transform="matrix(0.5124 0 0 0.9535 1362.20 94.60)" font-weight="bold" fill="#0a0a0a">И</text></g>
<g clip-path="url(#ct)"><text transform="matrix(0.5315 0 0 0.9535 1397.50 94.60)" font-weight="bold" fill="#0a0a0a">Т</text></g>
<g clip-path="url(#ct)"><text transform="matrix(0.5315 0 0 0.9535 1398.40 94.60)" font-weight="bold" fill="#0a0a0a">Т</text></g>
<g clip-path="url(#ct)"><text transform="matrix(0.5315 0 0 0.9535 1399.30 94.60)" font-weight="bold" fill="#0a0a0a">Т</text></g>
<g clip-path="url(#ct)"><text transform="matrix(0.4203 0 0 0.9535 1432.78 94.60)" font-weight="bold" fill="#0a0a0a">О</text></g>
<g clip-path="url(#ct)"><text transform="matrix(0.4203 0 0 0.9535 1433.68 94.60)" font-weight="bold" fill="#0a0a0a">О</text></g>
<g clip-path="url(#ct)"><text transform="matrix(0.4203 0 0 0.9535 1434.58 94.60)" font-weight="bold" fill="#0a0a0a">О</text></g>
<g clip-path="url(#ct)"><text transform="matrix(0.5071 0 0 0.9535 1467.61 94.60)" font-weight="bold" fill="#0a0a0a">Р</text></g>
<g clip-path="url(#ct)"><text transform="matrix(0.5071 0 0 0.9535 1468.51 94.60)" font-weight="bold" fill="#0a0a0a">Р</text></g>
<g clip-path="url(#ct)"><text transform="matrix(0.5071 0 0 0.9535 1469.41 94.60)" font-weight="bold" fill="#0a0a0a">Р</text></g>
<g clip-path="url(#ct)"><text transform="matrix(0.5762 0 0 0.9535 1503.55 94.60)" font-weight="bold" fill="#0a0a0a">І</text></g>
<g clip-path="url(#ct)"><text transform="matrix(0.5762 0 0 0.9535 1504.45 94.60)" font-weight="bold" fill="#0a0a0a">І</text></g>
<g clip-path="url(#ct)"><text transform="matrix(0.5762 0 0 0.9535 1505.35 94.60)" font-weight="bold" fill="#0a0a0a">І</text></g>
<g clip-path="url(#ct)"><text transform="matrix(0.6606 0 0 0.9535 1518.99 94.60)" font-weight="bold" fill="#0a0a0a">Ї</text></g>
<g clip-path="url(#ct)"><text transform="matrix(0.6606 0 0 0.9535 1519.89 94.60)" font-weight="bold" fill="#0a0a0a">Ї</text></g>
<g clip-path="url(#ct)"><text transform="matrix(0.6606 0 0 0.9535 1520.79 94.60)" font-weight="bold" fill="#0a0a0a">Ї</text></g>
<g clip-path="url(#ct)"><text transform="matrix(0.5301 0 0 0.9535 1553.35 94.60)" font-weight="bold" fill="#0a0a0a">Р</text></g>
<g clip-path="url(#ct)"><text transform="matrix(0.5301 0 0 0.9535 1554.25 94.60)" font-weight="bold" fill="#0a0a0a">Р</text></g>
<g clip-path="url(#ct)"><text transform="matrix(0.5301 0 0 0.9535 1555.15 94.60)" font-weight="bold" fill="#0a0a0a">Р</text></g>
<g clip-path="url(#ct)"><text transform="matrix(0.6096 0 0 0.9535 1589.09 94.60)" font-weight="bold" fill="#0a0a0a">Ф</text></g>
<g clip-path="url(#ct)"><text transform="matrix(0.6096 0 0 0.9535 1589.99 94.60)" font-weight="bold" fill="#0a0a0a">Ф</text></g>
<g clip-path="url(#ct)"><text transform="matrix(0.6096 0 0 0.9535 1590.89 94.60)" font-weight="bold" fill="#0a0a0a">Ф</text></g>
<g clip-path="url(#ct)"><text transform="matrix(0.5902 0 0 0.9535 1640.22 94.60)" font-weight="bold" fill="#0a0a0a">:</text></g>
<g clip-path="url(#ct)"><text transform="matrix(0.5902 0 0 0.9535 1641.12 94.60)" font-weight="bold" fill="#0a0a0a">:</text></g>
<g clip-path="url(#ct)"><text transform="matrix(0.5902 0 0 0.9535 1642.02 94.60)" font-weight="bold" fill="#0a0a0a">:</text></g>
<g><text transform="matrix(0.2724 0 0 0.4637 338.58 160.20)" font-weight="bold" fill="#0a0a0a">ВПК</text></g>
<g><text transform="matrix(0.2724 0 0 0.4637 339.08 160.20)" font-weight="bold" fill="#0a0a0a">ВПК</text></g>
<g><text transform="matrix(0.2724 0 0 0.4637 339.58 160.20)" font-weight="bold" fill="#0a0a0a">ВПК</text></g>
<g><text transform="matrix(0.2506 0 0 0.4637 535.62 160.20)" font-weight="bold" fill="#0a0a0a">ВІЙСЬКОВІ</text></g>
<g><text transform="matrix(0.2506 0 0 0.4637 536.12 160.20)" font-weight="bold" fill="#0a0a0a">ВІЙСЬКОВІ</text></g>
<g><text transform="matrix(0.2506 0 0 0.4637 536.62 160.20)" font-weight="bold" fill="#0a0a0a">ВІЙСЬКОВІ</text></g>
<g><text transform="matrix(0.2721 0 0 0.4637 688.88 160.20)" font-weight="bold" fill="#0a0a0a">ОБ'ЄКТИ</text></g>
<g><text transform="matrix(0.2721 0 0 0.4637 689.38 160.20)" font-weight="bold" fill="#0a0a0a">ОБ'ЄКТИ</text></g>
<g><text transform="matrix(0.2721 0 0 0.4637 689.88 160.20)" font-weight="bold" fill="#0a0a0a">ОБ'ЄКТИ</text></g>
<g><text transform="matrix(0.2884 0 0 0.4637 954.07 160.20)" font-weight="bold" fill="#0a0a0a">НАФТА/ГАЗ</text></g>
<g><text transform="matrix(0.2884 0 0 0.4637 954.57 160.20)" font-weight="bold" fill="#0a0a0a">НАФТА/ГАЗ</text></g>
<g><text transform="matrix(0.2884 0 0 0.4637 955.07 160.20)" font-weight="bold" fill="#0a0a0a">НАФТА/ГАЗ</text></g>
<g><text transform="matrix(0.2709 0 0 0.4637 1269.09 160.20)" font-weight="bold" fill="#0a0a0a">ЕНЕРГЕТИКА</text></g>
<g><text transform="matrix(0.2709 0 0 0.4637 1269.59 160.20)" font-weight="bold" fill="#0a0a0a">ЕНЕРГЕТИКА</text></g>
<g><text transform="matrix(0.2709 0 0 0.4637 1270.09 160.20)" font-weight="bold" fill="#0a0a0a">ЕНЕРГЕТИКА</text></g>
<g clip-path="url(#cm1)"><text transform="matrix(0.2863 0 0 0.4985 135.08 299.50)" font-weight="bold" fill="#0a0a0a">ЖОВТЕНЬ</text></g>
<g clip-path="url(#cm1)"><text transform="matrix(0.2863 0 0 0.4985 135.58 299.50)" font-weight="bold" fill="#0a0a0a">ЖОВТЕНЬ</text></g>
<g clip-path="url(#cm1)"><text transform="matrix(0.2863 0 0 0.4985 136.08 299.50)" font-weight="bold" fill="#0a0a0a">ЖОВТЕНЬ</text></g>
<g><text transform="matrix(0.3328 0 0 0.4845 290.65 299.03)" font-weight="bold" fill="#0a0a0a">2024</text></g>
<g><text transform="matrix(0.3328 0 0 0.4845 291.15 299.03)" font-weight="bold" fill="#0a0a0a">2024</text></g>
<g><text transform="matrix(0.3328 0 0 0.4845 291.65 299.03)" font-weight="bold" fill="#0a0a0a">2024</text></g>
<g clip-path="url(#cm1)"><text transform="matrix(0.2921 0 0 0.4985 535.49 299.50)" font-weight="bold" fill="#0a0a0a">ЛИСТОПАД</text></g>
<g clip-path="url(#cm1)"><text transform="matrix(0.2921 0 0 0.4985 535.99 299.50)" font-weight="bold" fill="#0a0a0a">ЛИСТОПАД</text></g>
<g clip-path="url(#cm1)"><text transform="matrix(0.2921 0 0 0.4985 536.49 299.50)" font-weight="bold" fill="#0a0a0a">ЛИСТОПАД</text></g>
<g><text transform="matrix(0.3323 0 0 0.4845 712.25 299.03)" font-weight="bold" fill="#0a0a0a">2024</text></g>
<g><text transform="matrix(0.3323 0 0 0.4845 712.75 299.03)" font-weight="bold" fill="#0a0a0a">2024</text></g>
<g><text transform="matrix(0.3323 0 0 0.4845 713.25 299.03)" font-weight="bold" fill="#0a0a0a">2024</text></g>
<g clip-path="url(#cm1)"><text transform="matrix(0.2893 0 0 0.4985 957.07 299.50)" font-weight="bold" fill="#0a0a0a">ГРУДЕНЬ</text></g>
<g clip-path="url(#cm1)"><text transform="matrix(0.2893 0 0 0.4985 957.57 299.50)" font-weight="bold" fill="#0a0a0a">ГРУДЕНЬ</text></g>
<g clip-path="url(#cm1)"><text transform="matrix(0.2893 0 0 0.4985 958.07 299.50)" font-weight="bold" fill="#0a0a0a">ГРУДЕНЬ</text></g>
<g><text transform="matrix(0.3328 0 0 0.4845 1103.35 299.03)" font-weight="bold" fill="#0a0a0a">2024</text></g>
<g><text transform="matrix(0.3328 0 0 0.4845 1103.85 299.03)" font-weight="bold" fill="#0a0a0a">2024</text></g>
<g><text transform="matrix(0.3328 0 0 0.4845 1104.35 299.03)" font-weight="bold" fill="#0a0a0a">2024</text></g>
<g clip-path="url(#cm0)"><text transform="matrix(0.2750 0 0 0.4985 1374.47 299.10)" font-weight="bold" fill="#0a0a0a">СІЧЕНЬ</text></g>
<g clip-path="url(#cm0)"><text transform="matrix(0.2750 0 0 0.4985 1374.97 299.10)" font-weight="bold" fill="#0a0a0a">СІЧЕНЬ</text></g>
<g clip-path="url(#cm0)"><text transform="matrix(0.2750 0 0 0.4985 1375.47 299.10)" font-weight="bold" fill="#0a0a0a">СІЧЕНЬ</text></g>
<g><text transform="matrix(0.3358 0 0 0.4845 1488.24 298.63)" font-weight="bold" fill="#0a0a0a">2025</text></g>
<g><text transform="matrix(0.3358 0 0 0.4845 1488.74 298.63)" font-weight="bold" fill="#0a0a0a">2025</text></g>
<g><text transform="matrix(0.3358 0 0 0.4845 1489.24 298.63)" font-weight="bold" fill="#0a0a0a">2025</text></g>
<g clip-path="url(#cm2)"><text transform="matrix(0.2930 0 0 0.5000 147.69 710.40)" font-weight="bold" fill="#0a0a0a">ЛЮТИЙ</text></g>
<g clip-path="url(#cm2)"><text transform="matrix(0.2930 0 0 0.5000 148.19 710.40)" font-weight="bold" fill="#0a0a0a">ЛЮТИЙ</text></g>
<g clip-path="url(#cm2)"><text transform="matrix(0.2930 0 0 0.5000 148.69 710.40)" font-weight="bold" fill="#0a0a0a">ЛЮТИЙ</text></g>
<g><text transform="matrix(0.3358 0 0 0.4859 267.84 709.93)" font-weight="bold" fill="#0a0a0a">2025</text></g>
<g><text transform="matrix(0.3358 0 0 0.4859 268.34 709.93)" font-weight="bold" fill="#0a0a0a">2025</text></g>
<g><text transform="matrix(0.3358 0 0 0.4859 268.84 709.93)" font-weight="bold" fill="#0a0a0a">2025</text></g>
<g clip-path="url(#cm2)"><text transform="matrix(0.2807 0 0 0.5000 534.92 710.40)" font-weight="bold" fill="#0a0a0a">БЕРЕЗЕНЬ</text></g>
<g clip-path="url(#cm2)"><text transform="matrix(0.2807 0 0 0.5000 535.42 710.40)" font-weight="bold" fill="#0a0a0a">БЕРЕЗЕНЬ</text></g>
<g clip-path="url(#cm2)"><text transform="matrix(0.2807 0 0 0.5000 535.92 710.40)" font-weight="bold" fill="#0a0a0a">БЕРЕЗЕНЬ</text></g>
<g><text transform="matrix(0.3372 0 0 0.4859 696.83 709.93)" font-weight="bold" fill="#0a0a0a">2025</text></g>
<g><text transform="matrix(0.3372 0 0 0.4859 697.33 709.93)" font-weight="bold" fill="#0a0a0a">2025</text></g>
<g><text transform="matrix(0.3372 0 0 0.4859 697.83 709.93)" font-weight="bold" fill="#0a0a0a">2025</text></g>
<g clip-path="url(#cm2)"><text transform="matrix(0.2957 0 0 0.5000 958.22 710.40)" font-weight="bold" fill="#0a0a0a">КВІТЕНЬ</text></g>
<g clip-path="url(#cm2)"><text transform="matrix(0.2957 0 0 0.5000 958.72 710.40)" font-weight="bold" fill="#0a0a0a">КВІТЕНЬ</text></g>
<g clip-path="url(#cm2)"><text transform="matrix(0.2957 0 0 0.5000 959.22 710.40)" font-weight="bold" fill="#0a0a0a">КВІТЕНЬ</text></g>
<g><text transform="matrix(0.3418 0 0 0.4859 1095.72 709.93)" font-weight="bold" fill="#0a0a0a">2025</text></g>
<g><text transform="matrix(0.3418 0 0 0.4859 1096.22 709.93)" font-weight="bold" fill="#0a0a0a">2025</text></g>
<g><text transform="matrix(0.3418 0 0 0.4859 1096.72 709.93)" font-weight="bold" fill="#0a0a0a">2025</text></g>
<g clip-path="url(#cm2)"><text transform="matrix(0.2724 0 0 0.5000 1367.19 710.40)" font-weight="bold" fill="#0a0a0a">ТРАВЕНЬ</text></g>
<g clip-path="url(#cm2)"><text transform="matrix(0.2724 0 0 0.5000 1367.69 710.40)" font-weight="bold" fill="#0a0a0a">ТРАВЕНЬ</text></g>
<g clip-path="url(#cm2)"><text transform="matrix(0.2724 0 0 0.5000 1368.19 710.40)" font-weight="bold" fill="#0a0a0a">ТРАВЕНЬ</text></g>
<g><text transform="matrix(0.3395 0 0 0.4859 1508.62 709.93)" font-weight="bold" fill="#0a0a0a">2025</text></g>
<g><text transform="matrix(0.3395 0 0 0.4859 1509.12 709.93)" font-weight="bold" fill="#0a0a0a">2025</text></g>
<g><text transform="matrix(0.3395 0 0 0.4859 1509.62 709.93)" font-weight="bold" fill="#0a0a0a">2025</text></g>
<g clip-path="url(#cm3)"><text transform="matrix(0.2759 0 0 0.4985 139.72 1100.10)" font-weight="bold" fill="#0a0a0a">ЧЕРВЕНЬ</text></g>
<g clip-path="url(#cm3)"><text transform="matrix(0.2759 0 0 0.4985 140.22 1100.10)" font-weight="bold" fill="#0a0a0a">ЧЕРВЕНЬ</text></g>
<g clip-path="url(#cm3)"><text transform="matrix(0.2759 0 0 0.4985 140.72 1100.10)" font-weight="bold" fill="#0a0a0a">ЧЕРВЕНЬ</text></g>
<g><text transform="matrix(0.3418 0 0 0.4845 283.02 1099.63)" font-weight="bold" fill="#0a0a0a">2025</text></g>
<g><text transform="matrix(0.3418 0 0 0.4845 283.52 1099.63)" font-weight="bold" fill="#0a0a0a">2025</text></g>
<g><text transform="matrix(0.3418 0 0 0.4845 284.02 1099.63)" font-weight="bold" fill="#0a0a0a">2025</text></g>
<g clip-path="url(#cm3)"><text transform="matrix(0.2826 0 0 0.4985 551.49 1100.10)" font-weight="bold" fill="#0a0a0a">ЛИПЕНЬ</text></g>
<g clip-path="url(#cm3)"><text transform="matrix(0.2826 0 0 0.4985 551.99 1100.10)" font-weight="bold" fill="#0a0a0a">ЛИПЕНЬ</text></g>
<g clip-path="url(#cm3)"><text transform="matrix(0.2826 0 0 0.4985 552.49 1100.10)" font-weight="bold" fill="#0a0a0a">ЛИПЕНЬ</text></g>
<g><text transform="matrix(0.3409 0 0 0.4845 681.22 1099.63)" font-weight="bold" fill="#0a0a0a">2025</text></g>
<g><text transform="matrix(0.3409 0 0 0.4845 681.72 1099.63)" font-weight="bold" fill="#0a0a0a">2025</text></g>
<g><text transform="matrix(0.3409 0 0 0.4845 682.22 1099.63)" font-weight="bold" fill="#0a0a0a">2025</text></g>
<g clip-path="url(#cm3)"><text transform="matrix(0.2717 0 0 0.4985 952.29 1100.10)" font-weight="bold" fill="#0a0a0a">СЕРПЕНЬ</text></g>
<g clip-path="url(#cm3)"><text transform="matrix(0.2717 0 0 0.4985 952.79 1100.10)" font-weight="bold" fill="#0a0a0a">СЕРПЕНЬ</text></g>
<g clip-path="url(#cm3)"><text transform="matrix(0.2717 0 0 0.4985 953.29 1100.10)" font-weight="bold" fill="#0a0a0a">СЕРПЕНЬ</text></g>
<g><text transform="matrix(0.3386 0 0 0.4845 1094.43 1099.63)" font-weight="bold" fill="#0a0a0a">2025</text></g>
<g><text transform="matrix(0.3386 0 0 0.4845 1094.93 1099.63)" font-weight="bold" fill="#0a0a0a">2025</text></g>
<g><text transform="matrix(0.3386 0 0 0.4845 1095.43 1099.63)" font-weight="bold" fill="#0a0a0a">2025</text></g>
<g clip-path="url(#cm3)"><text transform="matrix(0.2719 0 0 0.4985 1350.38 1100.10)" font-weight="bold" fill="#0a0a0a">ВЕРЕСЕНЬ</text></g>
<g clip-path="url(#cm3)"><text transform="matrix(0.2719 0 0 0.4985 1350.88 1100.10)" font-weight="bold" fill="#0a0a0a">ВЕРЕСЕНЬ</text></g>
<g clip-path="url(#cm3)"><text transform="matrix(0.2719 0 0 0.4985 1351.38 1100.10)" font-weight="bold" fill="#0a0a0a">ВЕРЕСЕНЬ</text></g>
<g><text transform="matrix(0.3432 0 0 0.4845 1510.31 1099.63)" font-weight="bold" fill="#0a0a0a">2025</text></g>
<g><text transform="matrix(0.3432 0 0 0.4845 1510.81 1099.63)" font-weight="bold" fill="#0a0a0a">2025</text></g>
<g><text transform="matrix(0.3432 0 0 0.4845 1511.31 1099.63)" font-weight="bold" fill="#0a0a0a">2025</text></g>
<g clip-path="url(#cm5)"><text transform="matrix(0.2851 0 0 0.5015 130.58 1521.20)" font-weight="bold" fill="#0a0a0a">ЖОВТЕНЬ</text></g>
<g clip-path="url(#cm5)"><text transform="matrix(0.2851 0 0 0.5015 131.08 1521.20)" font-weight="bold" fill="#0a0a0a">ЖОВТЕНЬ</text></g>
<g clip-path="url(#cm5)"><text transform="matrix(0.2851 0 0 0.5015 131.58 1521.20)" font-weight="bold" fill="#0a0a0a">ЖОВТЕНЬ</text></g>
<g><text transform="matrix(0.3423 0 0 0.4873 285.51 1520.72)" font-weight="bold" fill="#0a0a0a">2025</text></g>
<g><text transform="matrix(0.3423 0 0 0.4873 286.01 1520.72)" font-weight="bold" fill="#0a0a0a">2025</text></g>
<g><text transform="matrix(0.3423 0 0 0.4873 286.51 1520.72)" font-weight="bold" fill="#0a0a0a">2025</text></g>
<g clip-path="url(#cm5)"><text transform="matrix(0.2917 0 0 0.5015 537.49 1521.20)" font-weight="bold" fill="#0a0a0a">ЛИСТОПАД</text></g>
<g clip-path="url(#cm5)"><text transform="matrix(0.2917 0 0 0.5015 537.99 1521.20)" font-weight="bold" fill="#0a0a0a">ЛИСТОПАД</text></g>
<g clip-path="url(#cm5)"><text transform="matrix(0.2917 0 0 0.5015 538.49 1521.20)" font-weight="bold" fill="#0a0a0a">ЛИСТОПАД</text></g>
<g><text transform="matrix(0.3418 0 0 0.4873 713.52 1520.72)" font-weight="bold" fill="#0a0a0a">2025</text></g>
<g><text transform="matrix(0.3418 0 0 0.4873 714.02 1520.72)" font-weight="bold" fill="#0a0a0a">2025</text></g>
<g><text transform="matrix(0.3418 0 0 0.4873 714.52 1520.72)" font-weight="bold" fill="#0a0a0a">2025</text></g>
<g clip-path="url(#cm4)"><text transform="matrix(0.2960 0 0 0.5000 942.52 1514.20)" font-weight="bold" fill="#0a0a0a">ГРУДЕНЬ</text></g>
<g clip-path="url(#cm4)"><text transform="matrix(0.2960 0 0 0.5000 943.02 1514.20)" font-weight="bold" fill="#0a0a0a">ГРУДЕНЬ</text></g>
<g clip-path="url(#cm4)"><text transform="matrix(0.2960 0 0 0.5000 943.52 1514.20)" font-weight="bold" fill="#0a0a0a">ГРУДЕНЬ</text></g>
<g><text transform="matrix(0.3386 0 0 0.4859 1090.63 1513.73)" font-weight="bold" fill="#0a0a0a">2025</text></g>
<g><text transform="matrix(0.3386 0 0 0.4859 1091.13 1513.73)" font-weight="bold" fill="#0a0a0a">2025</text></g>
<g><text transform="matrix(0.3386 0 0 0.4859 1091.63 1513.73)" font-weight="bold" fill="#0a0a0a">2025</text></g>
<g><text transform="matrix(0.4247 0 0 0.6313 232.57 418.53)" font-weight="bold" fill="#fff">0</text></g>
<g><text transform="matrix(0.4247 0 0 0.6313 233.77 418.53)" font-weight="bold" fill="#fff">0</text></g>
<g><text transform="matrix(0.4247 0 0 0.6313 234.97 418.53)" font-weight="bold" fill="#fff">0</text></g>
<g><text transform="matrix(0.4117 0 0 0.6313 191.74 524.93)" font-weight="bold" fill="#fff">6</text></g>
<g><text transform="matrix(0.4117 0 0 0.6313 192.94 524.93)" font-weight="bold" fill="#fff">6</text></g>
<g><text transform="matrix(0.4117 0 0 0.6313 194.14 524.93)" font-weight="bold" fill="#fff">6</text></g>
<g><text transform="matrix(0.3995 0 0 0.6497 287.40 512.95)" font-weight="bold" fill="#fff">4</text></g>
<g><text transform="matrix(0.3995 0 0 0.6497 288.60 512.95)" font-weight="bold" fill="#fff">4</text></g>
<g><text transform="matrix(0.3995 0 0 0.6497 289.80 512.95)" font-weight="bold" fill="#fff">4</text></g>
<g><text transform="matrix(0.4117 0 0 0.6313 594.94 442.53)" font-weight="bold" fill="#fff">6</text></g>
<g><text transform="matrix(0.4117 0 0 0.6313 596.14 442.53)" font-weight="bold" fill="#fff">6</text></g>
<g><text transform="matrix(0.4117 0 0 0.6313 597.34 442.53)" font-weight="bold" fill="#fff">6</text></g>
<g><text transform="matrix(0.3995 0 0 0.6497 684.10 425.65)" font-weight="bold" fill="#fff">4</text></g>
<g><text transform="matrix(0.3995 0 0 0.6497 685.30 425.65)" font-weight="bold" fill="#fff">4</text></g>
<g><text transform="matrix(0.3995 0 0 0.6497 686.50 425.65)" font-weight="bold" fill="#fff">4</text></g>
<g><text transform="matrix(0.4134 0 0 0.6497 658.72 524.05)" font-weight="bold" fill="#fff">7</text></g>
<g><text transform="matrix(0.4134 0 0 0.6497 659.92 524.05)" font-weight="bold" fill="#fff">7</text></g>
<g><text transform="matrix(0.4134 0 0 0.6497 661.12 524.05)" font-weight="bold" fill="#fff">7</text></g>
<g><text transform="matrix(0.4031 0 0 0.6313 1008.67 451.23)" font-weight="bold" fill="#fff">8</text></g>
<g><text transform="matrix(0.4031 0 0 0.6313 1009.87 451.23)" font-weight="bold" fill="#fff">8</text></g>
<g><text transform="matrix(0.4031 0 0 0.6313 1011.07 451.23)" font-weight="bold" fill="#fff">8</text></g>
<g><text transform="matrix(0.3995 0 0 0.6497 1097.60 429.15)" font-weight="bold" fill="#fff">4</text></g>
<g><text transform="matrix(0.3995 0 0 0.6497 1098.80 429.15)" font-weight="bold" fill="#fff">4</text></g>
<g><text transform="matrix(0.3995 0 0 0.6497 1100.00 429.15)" font-weight="bold" fill="#fff">4</text></g>
<g><text transform="matrix(0.4117 0 0 0.6313 1077.94 521.43)" font-weight="bold" fill="#fff">6</text></g>
<g><text transform="matrix(0.4117 0 0 0.6313 1079.14 521.43)" font-weight="bold" fill="#fff">6</text></g>
<g><text transform="matrix(0.4117 0 0 0.6313 1080.34 521.43)" font-weight="bold" fill="#fff">6</text></g>
<g><text transform="matrix(0.4003 0 0 0.6300 1388.53 428.64)" font-weight="bold" fill="#fff">3</text></g>
<g><text transform="matrix(0.4003 0 0 0.6300 1389.73 428.64)" font-weight="bold" fill="#fff">3</text></g>
<g><text transform="matrix(0.4003 0 0 0.6300 1390.93 428.64)" font-weight="bold" fill="#fff">3</text></g>
<g><text transform="matrix(0.4108 0 0 0.6313 1492.83 410.53)" font-weight="bold" fill="#fff">9</text></g>
<g><text transform="matrix(0.4108 0 0 0.6313 1494.03 410.53)" font-weight="bold" fill="#fff">9</text></g>
<g><text transform="matrix(0.4108 0 0 0.6313 1495.23 410.53)" font-weight="bold" fill="#fff">9</text></g>
<g><text transform="matrix(0.3863 0 0 0.6300 1470.26 535.54)" font-weight="bold" fill="#fff">3</text></g>
<g><text transform="matrix(0.3863 0 0 0.6300 1471.46 535.54)" font-weight="bold" fill="#fff">3</text></g>
<g><text transform="matrix(0.3863 0 0 0.6300 1472.66 535.54)" font-weight="bold" fill="#fff">3</text></g>
<g><text transform="matrix(0.4133 0 0 0.6402 290.22 862.75)" font-weight="bold" fill="#fff">2</text></g>
<g><text transform="matrix(0.4133 0 0 0.6402 291.42 862.75)" font-weight="bold" fill="#fff">2</text></g>
<g><text transform="matrix(0.4133 0 0 0.6402 292.62 862.75)" font-weight="bold" fill="#fff">2</text></g>
<g><text transform="matrix(0.3802 0 0 0.6300 200.43 903.94)" font-weight="bold" fill="#fff">3</text></g>
<g><text transform="matrix(0.3802 0 0 0.6300 201.63 903.94)" font-weight="bold" fill="#fff">3</text></g>
<g><text transform="matrix(0.3802 0 0 0.6300 202.83 903.94)" font-weight="bold" fill="#fff">3</text></g>
<g><text transform="matrix(0.4003 0 0 0.6300 644.93 810.94)" font-weight="bold" fill="#fff">3</text></g>
<g><text transform="matrix(0.4003 0 0 0.6300 646.13 810.94)" font-weight="bold" fill="#fff">3</text></g>
<g><text transform="matrix(0.4003 0 0 0.6300 647.33 810.94)" font-weight="bold" fill="#fff">3</text></g>
<g><text transform="matrix(0.3995 0 0 0.6497 710.50 848.45)" font-weight="bold" fill="#fff">4</text></g>
<g><text transform="matrix(0.3995 0 0 0.6497 711.70 848.45)" font-weight="bold" fill="#fff">4</text></g>
<g><text transform="matrix(0.3995 0 0 0.6497 712.90 848.45)" font-weight="bold" fill="#fff">4</text></g>
<g><text transform="matrix(0.3972 0 0 0.6313 621.10 941.43)" font-weight="bold" fill="#fff">6</text></g>
<g><text transform="matrix(0.3972 0 0 0.6313 622.30 941.43)" font-weight="bold" fill="#fff">6</text></g>
<g><text transform="matrix(0.3972 0 0 0.6313 623.50 941.43)" font-weight="bold" fill="#fff">6</text></g>
<g><text transform="matrix(0.4117 0 0 0.6313 1053.84 845.43)" font-weight="bold" fill="#fff">6</text></g>
<g><text transform="matrix(0.4117 0 0 0.6313 1055.04 845.43)" font-weight="bold" fill="#fff">6</text></g>
<g><text transform="matrix(0.4117 0 0 0.6313 1056.24 845.43)" font-weight="bold" fill="#fff">6</text></g>
<g><text transform="matrix(0.4000 0 0 0.6406 1064.62 934.02)" font-weight="bold" fill="#fff">5</text></g>
<g><text transform="matrix(0.4000 0 0 0.6406 1065.82 934.02)" font-weight="bold" fill="#fff">5</text></g>
<g><text transform="matrix(0.4000 0 0 0.6406 1067.02 934.02)" font-weight="bold" fill="#fff">5</text></g>
<g><text transform="matrix(0.3921 0 0 0.6497 1420.97 860.55)" font-weight="bold" fill="#fff">7</text></g>
<g><text transform="matrix(0.3921 0 0 0.6497 1422.17 860.55)" font-weight="bold" fill="#fff">7</text></g>
<g><text transform="matrix(0.3921 0 0 0.6497 1423.37 860.55)" font-weight="bold" fill="#fff">7</text></g>
<g><text transform="matrix(0.3995 0 0 0.6497 1530.50 929.25)" font-weight="bold" fill="#fff">4</text></g>
<g><text transform="matrix(0.3995 0 0 0.6497 1531.70 929.25)" font-weight="bold" fill="#fff">4</text></g>
<g><text transform="matrix(0.3995 0 0 0.6497 1532.90 929.25)" font-weight="bold" fill="#fff">4</text></g>
<g><text transform="matrix(0.4108 0 0 0.6313 230.73 1251.43)" font-weight="bold" fill="#fff">9</text></g>
<g><text transform="matrix(0.4108 0 0 0.6313 231.93 1251.43)" font-weight="bold" fill="#fff">9</text></g>
<g><text transform="matrix(0.4108 0 0 0.6313 233.13 1251.43)" font-weight="bold" fill="#fff">9</text></g>
<g><text transform="matrix(0.4117 0 0 0.6313 191.94 1355.93)" font-weight="bold" fill="#fff">6</text></g>
<g><text transform="matrix(0.4117 0 0 0.6313 193.14 1355.93)" font-weight="bold" fill="#fff">6</text></g>
<g><text transform="matrix(0.4117 0 0 0.6313 194.34 1355.93)" font-weight="bold" fill="#fff">6</text></g>
<g><text transform="matrix(0.4003 0 0 0.6300 288.63 1347.04)" font-weight="bold" fill="#fff">3</text></g>
<g><text transform="matrix(0.4003 0 0 0.6300 289.83 1347.04)" font-weight="bold" fill="#fff">3</text></g>
<g><text transform="matrix(0.4003 0 0 0.6300 291.03 1347.04)" font-weight="bold" fill="#fff">3</text></g>
<g><text transform="matrix(0.4108 0 0 0.6313 603.33 1364.13)" font-weight="bold" fill="#fff">9</text></g>
<g><text transform="matrix(0.4108 0 0 0.6313 604.53 1364.13)" font-weight="bold" fill="#fff">9</text></g>
<g><text transform="matrix(0.4108 0 0 0.6313 605.73 1364.13)" font-weight="bold" fill="#fff">9</text></g>
<g><text transform="matrix(0.3995 0 0 0.6497 714.10 1350.35)" font-weight="bold" fill="#fff">4</text></g>
<g><text transform="matrix(0.3995 0 0 0.6497 715.30 1350.35)" font-weight="bold" fill="#fff">4</text></g>
<g><text transform="matrix(0.3995 0 0 0.6497 716.50 1350.35)" font-weight="bold" fill="#fff">4</text></g>
<g><text transform="matrix(0.3661 0 0 0.6300 1001.21 1239.24)" font-weight="bold" fill="#fff">3</text></g>
<g><text transform="matrix(0.3661 0 0 0.6300 1002.41 1239.24)" font-weight="bold" fill="#fff">3</text></g>
<g><text transform="matrix(0.3661 0 0 0.6300 1003.61 1239.24)" font-weight="bold" fill="#fff">3</text></g>
<g><text transform="matrix(0.4134 0 0 0.6497 1139.12 1252.35)" font-weight="bold" fill="#fff">7</text></g>
<g><text transform="matrix(0.4134 0 0 0.6497 1140.32 1252.35)" font-weight="bold" fill="#fff">7</text></g>
<g><text transform="matrix(0.4134 0 0 0.6497 1141.52 1252.35)" font-weight="bold" fill="#fff">7</text></g>
<g><text transform="matrix(0.3889 0 0 0.6313 1067.52 1383.43)" font-weight="bold" fill="#fff">8</text></g>
<g><text transform="matrix(0.3889 0 0 0.6313 1068.72 1383.43)" font-weight="bold" fill="#fff">8</text></g>
<g><text transform="matrix(0.3889 0 0 0.6313 1069.92 1383.43)" font-weight="bold" fill="#fff">8</text></g>
<g><text transform="matrix(0.4117 0 0 0.6313 1511.84 1221.73)" font-weight="bold" fill="#fff">6</text></g>
<g><text transform="matrix(0.4117 0 0 0.6313 1513.04 1221.73)" font-weight="bold" fill="#fff">6</text></g>
<g><text transform="matrix(0.4117 0 0 0.6313 1514.24 1221.73)" font-weight="bold" fill="#fff">6</text></g>
<g><text transform="matrix(0.4003 0 0 0.6300 1586.03 1281.74)" font-weight="bold" fill="#fff">3</text></g>
<g><text transform="matrix(0.4003 0 0 0.6300 1587.23 1281.74)" font-weight="bold" fill="#fff">3</text></g>
<g><text transform="matrix(0.4003 0 0 0.6300 1588.43 1281.74)" font-weight="bold" fill="#fff">3</text></g>
<g><text transform="matrix(0.4005 0 0 0.6402 1405.21 1368.35)" font-weight="bold" fill="#fff">27</text></g>
<g><text transform="matrix(0.4005 0 0 0.6402 1406.41 1368.35)" font-weight="bold" fill="#fff">27</text></g>
<g><text transform="matrix(0.4005 0 0 0.6402 1407.61 1368.35)" font-weight="bold" fill="#fff">27</text></g>
<g><text transform="matrix(0.3879 0 0 0.6497 176.78 1673.45)" font-weight="bold" fill="#fff">7</text></g>
<g><text transform="matrix(0.3879 0 0 0.6497 177.98 1673.45)" font-weight="bold" fill="#fff">7</text></g>
<g><text transform="matrix(0.3879 0 0 0.6497 179.18 1673.45)" font-weight="bold" fill="#fff">7</text></g>
<g><text transform="matrix(0.4117 0 0 0.6313 331.14 1679.73)" font-weight="bold" fill="#fff">6</text></g>
<g><text transform="matrix(0.4117 0 0 0.6313 332.34 1679.73)" font-weight="bold" fill="#fff">6</text></g>
<g><text transform="matrix(0.4117 0 0 0.6313 333.54 1679.73)" font-weight="bold" fill="#fff">6</text></g>
<g><text transform="matrix(0.3863 0 0 0.6300 272.16 1810.94)" font-weight="bold" fill="#fff">3</text></g>
<g><text transform="matrix(0.3863 0 0 0.6300 273.36 1810.94)" font-weight="bold" fill="#fff">3</text></g>
<g><text transform="matrix(0.3863 0 0 0.6300 274.56 1810.94)" font-weight="bold" fill="#fff">3</text></g>
<g><text transform="matrix(0.4133 0 0 0.6402 695.82 1596.75)" font-weight="bold" fill="#fff">2</text></g>
<g><text transform="matrix(0.4133 0 0 0.6402 697.02 1596.75)" font-weight="bold" fill="#fff">2</text></g>
<g><text transform="matrix(0.4133 0 0 0.6402 698.22 1596.75)" font-weight="bold" fill="#fff">2</text></g>
<g><text transform="matrix(0.3510 0 0 0.6497 582.72 1664.25)" font-weight="bold" fill="#fff">4</text></g>
<g><text transform="matrix(0.3510 0 0 0.6497 583.92 1664.25)" font-weight="bold" fill="#fff">4</text></g>
<g><text transform="matrix(0.3510 0 0 0.6497 585.12 1664.25)" font-weight="bold" fill="#fff">4</text></g>
<g><text transform="matrix(0.4134 0 0 0.6497 744.72 1668.05)" font-weight="bold" fill="#fff">7</text></g>
<g><text transform="matrix(0.4134 0 0 0.6497 745.92 1668.05)" font-weight="bold" fill="#fff">7</text></g>
<g><text transform="matrix(0.4134 0 0 0.6497 747.12 1668.05)" font-weight="bold" fill="#fff">7</text></g>
<g><text transform="matrix(0.4042 0 0 0.6313 636.75 1812.23)" font-weight="bold" fill="#fff">20</text></g>
<g><text transform="matrix(0.4042 0 0 0.6313 637.95 1812.23)" font-weight="bold" fill="#fff">20</text></g>
<g><text transform="matrix(0.4042 0 0 0.6313 639.15 1812.23)" font-weight="bold" fill="#fff">20</text></g>
<g><text transform="matrix(0.4003 0 0 0.6300 1054.13 1622.44)" font-weight="bold" fill="#fff">3</text></g>
<g><text transform="matrix(0.4003 0 0 0.6300 1055.33 1622.44)" font-weight="bold" fill="#fff">3</text></g>
<g><text transform="matrix(0.4003 0 0 0.6300 1056.53 1622.44)" font-weight="bold" fill="#fff">3</text></g>
<g><text transform="matrix(0.4213 0 0 0.6313 1126.26 1665.23)" font-weight="bold" fill="#fff">8</text></g>
<g><text transform="matrix(0.4213 0 0 0.6313 1127.46 1665.23)" font-weight="bold" fill="#fff">8</text></g>
<g><text transform="matrix(0.4213 0 0 0.6313 1128.66 1665.23)" font-weight="bold" fill="#fff">8</text></g>
<g><text transform="matrix(0.4042 0 0 0.6313 975.45 1755.03)" font-weight="bold" fill="#fff">20</text></g>
<g><text transform="matrix(0.4042 0 0 0.6313 976.65 1755.03)" font-weight="bold" fill="#fff">20</text></g>
<g><text transform="matrix(0.4042 0 0 0.6313 977.85 1755.03)" font-weight="bold" fill="#fff">20</text></g>
<g><text transform="matrix(0.4134 0 0 0.6497 1134.32 1778.75)" font-weight="bold" fill="#fff">7</text></g>
<g><text transform="matrix(0.4134 0 0 0.6497 1135.52 1778.75)" font-weight="bold" fill="#fff">7</text></g>
<g><text transform="matrix(0.4134 0 0 0.6497 1136.72 1778.75)" font-weight="bold" fill="#fff">7</text></g>
<g><text transform="matrix(0.3307 0 0 0.6265 718.66 1965.50)" font-weight="normal" fill="#0a0a0a">T</text></g>
<g><text transform="matrix(0.3307 0 0 0.6265 719.86 1965.50)" font-weight="normal" fill="#0a0a0a">T</text></g>
<g><text transform="matrix(0.3307 0 0 0.6265 721.06 1965.50)" font-weight="normal" fill="#0a0a0a">T</text></g>
<g><text transform="matrix(0.5566 0 0 0.6265 742.22 1965.50)" font-weight="normal" fill="#0a0a0a">.</text></g>
<g><text transform="matrix(0.5566 0 0 0.6265 743.42 1965.50)" font-weight="normal" fill="#0a0a0a">.</text></g>
<g><text transform="matrix(0.5566 0 0 0.6265 744.62 1965.50)" font-weight="normal" fill="#0a0a0a">.</text></g>
<g><text transform="matrix(0.4186 0 0 0.6265 757.37 1965.50)" font-weight="normal" fill="#0a0a0a">M</text></g>
<g><text transform="matrix(0.4186 0 0 0.6265 757.87 1965.50)" font-weight="normal" fill="#0a0a0a">M</text></g>
<g><text transform="matrix(0.4186 0 0 0.6265 758.37 1965.50)" font-weight="normal" fill="#0a0a0a">M</text></g>
<g><text transform="matrix(0.2140 0 0 0.6265 797.64 1965.50)" font-weight="normal" fill="#0a0a0a">E</text></g>
<g><text transform="matrix(0.2140 0 0 0.6265 798.84 1965.50)" font-weight="normal" fill="#0a0a0a">E</text></g>
<g><text transform="matrix(0.2140 0 0 0.6265 800.04 1965.50)" font-weight="normal" fill="#0a0a0a">E</text></g>
<g><text transform="matrix(0.2637 0 0 0.6265 841.35 1965.50)" font-weight="normal" fill="#0a0a0a">O</text></g>
<g><text transform="matrix(0.2637 0 0 0.6265 842.55 1965.50)" font-weight="normal" fill="#0a0a0a">O</text></g>
<g><text transform="matrix(0.2637 0 0 0.6265 843.75 1965.50)" font-weight="normal" fill="#0a0a0a">O</text></g>
<g><text transform="matrix(0.2684 0 0 0.6265 866.30 1965.50)" font-weight="normal" fill="#0a0a0a">K</text></g>
<g><text transform="matrix(0.2684 0 0 0.6265 867.50 1965.50)" font-weight="normal" fill="#0a0a0a">K</text></g>
<g><text transform="matrix(0.2684 0 0 0.6265 868.70 1965.50)" font-weight="normal" fill="#0a0a0a">K</text></g>
<g><text transform="matrix(0.2549 0 0 0.6265 892.19 1965.50)" font-weight="normal" fill="#0a0a0a">O</text></g>
<g><text transform="matrix(0.2549 0 0 0.6265 893.39 1965.50)" font-weight="normal" fill="#0a0a0a">O</text></g>
<g><text transform="matrix(0.2549 0 0 0.6265 894.59 1965.50)" font-weight="normal" fill="#0a0a0a">O</text></g>
<g><text transform="matrix(0.2282 0 0 0.6265 940.55 1965.50)" font-weight="normal" fill="#0a0a0a">G</text></g>
<g><text transform="matrix(0.2282 0 0 0.6265 941.75 1965.50)" font-weight="normal" fill="#0a0a0a">G</text></g>
<g><text transform="matrix(0.2282 0 0 0.6265 942.95 1965.50)" font-weight="normal" fill="#0a0a0a">G</text></g>
<g><text transform="matrix(0.2578 0 0 0.6265 965.78 1965.50)" font-weight="normal" fill="#0a0a0a">O</text></g>
<g><text transform="matrix(0.2578 0 0 0.6265 966.98 1965.50)" font-weight="normal" fill="#0a0a0a">O</text></g>
<g><text transform="matrix(0.2578 0 0 0.6265 968.18 1965.50)" font-weight="normal" fill="#0a0a0a">O</text></g>
<g><text transform="matrix(0.2375 0 0 0.6265 991.85 1965.50)" font-weight="normal" fill="#0a0a0a">R</text></g>
<g><text transform="matrix(0.2375 0 0 0.6265 993.05 1965.50)" font-weight="normal" fill="#0a0a0a">R</text></g>
<g><text transform="matrix(0.2375 0 0 0.6265 994.25 1965.50)" font-weight="normal" fill="#0a0a0a">R</text></g>
<g><text transform="matrix(0.2715 0 0 0.6265 1016.55 1965.50)" font-weight="normal" fill="#0a0a0a">A</text></g>
<g><text transform="matrix(0.2715 0 0 0.6265 1017.75 1965.50)" font-weight="normal" fill="#0a0a0a">A</text></g>
<g><text transform="matrix(0.2715 0 0 0.6265 1018.95 1965.50)" font-weight="normal" fill="#0a0a0a">A</text></g>
<rect x="920" y="1961.6" width="14.8" height="4" fill="#0a0a0a"/>
<path d="M821.6 1970.6H826.8L834.7 1917.3H829.5Z" fill="#0a0a0a"/>
<path transform="translate(219.55 374.95)" d="M3.8 0H12.2V43.70H4.4V11.6H0V7.8Q2.8 6.5 3.8 0Z" fill="#fff"/>
<path transform="translate(1456.45 492.05)" d="M3.8 0H12.2V43.70H4.4V11.6H0V7.8Q2.8 6.5 3.8 0Z" fill="#fff"/>
<path transform="translate(186.60 860.45)" d="M3.8 0H12.2V43.70H4.4V11.6H0V7.8Q2.8 6.5 3.8 0Z" fill="#fff"/>
<path transform="translate(607.85 897.85)" d="M3.8 0H12.2V43.70H4.4V11.6H0V7.8Q2.8 6.5 3.8 0Z" fill="#fff"/>
<path transform="translate(1407.95 816.35)" d="M3.8 0H12.2V43.70H4.4V11.6H0V7.8Q2.8 6.5 3.8 0Z" fill="#fff"/>
<path transform="translate(647.75 1199.05)" d="M3.8 0H12.2V43.70H4.4V11.6H0V7.8Q2.8 6.5 3.8 0Z" fill="#fff"/>
<path transform="translate(663.25 1199.05)" d="M3.8 0H12.2V43.70H4.4V11.6H0V7.8Q2.8 6.5 3.8 0Z" fill="#fff"/>
<path transform="translate(987.35 1195.75)" d="M3.8 0H12.2V43.70H4.4V11.6H0V7.8Q2.8 6.5 3.8 0Z" fill="#fff"/>
<path transform="translate(1054.05 1339.85)" d="M3.8 0H12.2V43.70H4.4V11.6H0V7.8Q2.8 6.5 3.8 0Z" fill="#fff"/>
<path transform="translate(332.05 1526.95)" d="M3.8 0H12.2V43.70H4.4V11.6H0V7.8Q2.8 6.5 3.8 0Z" fill="#D0021B"/>
<path transform="translate(163.75 1629.25)" d="M3.8 0H12.2V43.70H4.4V11.6H0V7.8Q2.8 6.5 3.8 0Z" fill="#fff"/>
<path transform="translate(258.35 1767.45)" d="M3.8 0H12.2V43.70H4.4V11.6H0V7.8Q2.8 6.5 3.8 0Z" fill="#fff"/>
<path transform="translate(568.55 1620.05)" d="M3.8 0H12.2V43.70H4.4V11.6H0V7.8Q2.8 6.5 3.8 0Z" fill="#fff"/>
<clipPath id="pc"><circle cx="242" cy="451.8" r="112.1"/><circle cx="654.2" cy="451.6" r="103.4"/><circle cx="1066.3" cy="451.6" r="106.4"/><circle cx="1479" cy="451.8" r="125.6"/><circle cx="241.9" cy="869.8" r="97.2"/><circle cx="654.4" cy="869.7" r="120.2"/><circle cx="1066.6" cy="869.6" r="83.3"/><circle cx="1479.2" cy="869.6" r="114.9"/><circle cx="241.8" cy="1287.6" r="103.4"/><circle cx="654.2" cy="1288" r="123"/><circle cx="1066.8" cy="1287.6" r="154.8"/><circle cx="1479.2" cy="1287.6" r="150.8"/><circle cx="241.7" cy="1705.6" r="160.8"/><circle cx="654.5" cy="1706" r="164.6"/><circle cx="1066.8" cy="1706" r="154.8"/></clipPath>
<g clip-path="url(#pc)">
<g opacity="0.045" fill="#000" filter="url(#wb)"><use href="#wa1"/></g>
<g opacity="0.03" fill="#000" filter="url(#wb)"><use href="#wa2"/></g>
</g>
</svg>
</body></html>
